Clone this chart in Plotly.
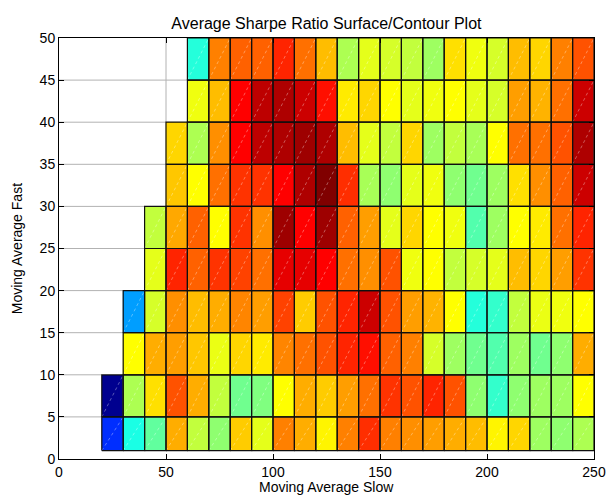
import plotly.graph_objects as go

# Grid: slow MA along x (cell edges), fast MA along y (cell edges)
slow_edges = [20, 30, 40, 50, 60, 70, 80, 90, 100, 110, 120, 130, 140, 150,
              160, 170, 180, 190, 200, 210, 220, 230, 240, 250]
fast_edges = [1, 5, 10, 15, 20, 25, 30, 35, 40, 45, 50]

x_ticks = [0, 50, 100, 150, 200, 250]
y_ticks = [0, 5, 10, 15, 20, 25, 30, 35, 40, 45, 50]

N = None
# Average Sharpe ratio per (fast, slow) cell, one list per fast-MA band
sharpe_f01 = [0.17, 0.40, 0.47, 0.705, 0.565, 0.515, 0.675, 0.60, 0.75, 0.705, 0.635, 0.75,
              0.83, 0.75, 0.735, 0.72, 0.705, 0.69, 0.635, 0.665, 0.53, 0.515, 0.545]
sharpe_f05 = [0.00, 0.545, 0.655, 0.795, 0.705, 0.565, 0.485, 0.50, 0.625, 0.705, 0.675, 0.72,
              0.765, 0.825, 0.795, 0.84, 0.795, 0.515, 0.425, 0.515, 0.53, 0.53, 0.625]
sharpe_f10 = [N, 0.625, 0.705, 0.72, 0.68, 0.605, 0.665, 0.645, 0.745, 0.765, 0.795, 0.84,
              0.86, 0.78, 0.75, 0.585, 0.53, 0.485, 0.455, 0.53, 0.485, 0.515, 0.705]
sharpe_f15 = [N, 0.28, 0.585, 0.735, 0.69, 0.705, 0.745, 0.72, 0.81, 0.675, 0.795, 0.84,
              0.925, 0.795, 0.72, 0.70, 0.625, 0.41, 0.425, 0.565, 0.605, 0.61, 0.625]
sharpe_f20 = [N, N, 0.60, 0.84, 0.78, 0.825, 0.81, 0.765, 0.90, 0.90, 0.875, 0.765,
              0.735, 0.795, 0.61, 0.625, 0.565, 0.585, 0.60, 0.69, 0.665, 0.72, 0.825]
sharpe_f25 = [N, N, 0.565, 0.71, 0.78, 0.625, 0.825, 0.735, 0.97, 0.875, 0.97, 0.78,
              0.72, 0.60, 0.665, 0.625, 0.61, 0.455, 0.53, 0.625, 0.645, 0.765, 0.84]
sharpe_f30 = [N, N, N, 0.68, 0.625, 0.765, 0.825, 0.825, 0.875, 0.955, 1.00, 0.83,
              0.54, 0.515, 0.60, 0.61, 0.515, 0.485, 0.53, 0.655, 0.735, 0.78, 0.925]
sharpe_f35 = [N, N, N, 0.665, 0.545, 0.735, 0.875, 0.94, 0.955, 0.97, 0.955, 0.69,
              0.60, 0.565, 0.665, 0.53, 0.565, 0.54, 0.625, 0.765, 0.765, 0.795, 0.955]
sharpe_f40 = [N, N, N, N, 0.61, 0.69, 0.875, 0.94, 0.955, 0.925, 0.86, 0.645,
              0.665, 0.625, 0.60, 0.61, 0.625, 0.60, 0.585, 0.72, 0.70, 0.765, 0.925]
sharpe_f45 = [N, N, N, N, 0.41, 0.75, 0.78, 0.78, 0.84, 0.765, 0.69, 0.545,
              0.60, 0.585, 0.565, 0.53, 0.655, 0.61, 0.585, 0.69, 0.665, 0.75, 0.795]

Z = [sharpe_f01, sharpe_f05, sharpe_f10, sharpe_f15, sharpe_f20,
     sharpe_f25, sharpe_f30, sharpe_f35, sharpe_f40, sharpe_f45]

jet = [[0.0, "rgb(0,0,143)"], [0.125, "rgb(0,0,255)"], [0.375, "rgb(0,255,255)"],
       [0.625, "rgb(255,255,0)"], [0.875, "rgb(255,0,0)"], [1.0, "rgb(128,0,0)"]]

fig = go.Figure()

# Light grey mesh edges over the empty (fast >= slow) region
row_start = []
for row in Z:
    idx = next(i for i, v in enumerate(row) if v is not None)
    row_start.append(slow_edges[idx])
gx, gy = [], []
for k in range(1, len(fast_edges) - 1):
    xe = min(row_start[k - 1], row_start[k])
    gx += [0, xe, None]
    gy += [fast_edges[k], fast_edges[k], None]
gx += [row_start[7], row_start[7], None]
gy += [fast_edges[8], fast_edges[10], None]
fig.add_trace(go.Scatter(x=gx, y=gy, mode="lines", hoverinfo="skip", showlegend=False,
                         line=dict(color="rgb(178,178,178)", width=1)))

# Faceted surface seen from above
fig.add_trace(go.Heatmap(x=slow_edges, y=fast_edges, z=Z, colorscale=jet,
                         zmin=0.0, zmax=1.0, showscale=False, zsmooth=False,
                         hoverongaps=False))

# Facet edges and the triangle seams inside each facet
ex, ey, dx, dy = [], [], [], []
for j, row in enumerate(Z):
    y0, y1 = fast_edges[j], fast_edges[j + 1]
    for i, v in enumerate(row):
        if v is None:
            continue
        x0, x1 = slow_edges[i], slow_edges[i + 1]
        ex += [x0, x1, x1, x0, x0, None]
        ey += [y0, y0, y1, y1, y0, None]
        dx += [x0, x1, None]
        dy += [y0, y1, None]
fig.add_trace(go.Scatter(x=dx, y=dy, mode="lines", hoverinfo="skip", showlegend=False,
                         line=dict(color="rgba(255,255,255,0.35)", width=1, dash="dot")))
fig.add_trace(go.Scatter(x=ex, y=ey, mode="lines", hoverinfo="skip", showlegend=False,
                         line=dict(color="rgb(15,15,15)", width=1.2)))

font = "Liberation Sans, Arial, sans-serif"
axis_common = dict(showgrid=False, zeroline=False, showline=True, linecolor="black",
                   linewidth=1, mirror="ticks", ticks="inside", ticklen=5,
                   tickcolor="black", automargin=False,
                   tickfont=dict(size=14, color="black", family=font))

fig.update_layout(
    width=609, height=502,
    margin=dict(l=59, r=15, t=38, b=43),
    paper_bgcolor="white", plot_bgcolor="white",
    font=dict(family=font, size=14, color="black"),
    title=dict(text="Average Sharpe Ratio Surface/Contour Plot", x=0.536, xanchor="center",
               y=0.954, yanchor="middle", font=dict(size=16, color="black", family=font)),
    xaxis=dict(range=[0, 250], tickvals=x_ticks, **axis_common),
    yaxis=dict(range=[0, 50], tickvals=y_ticks, **axis_common),
    annotations=[
        dict(text="Moving Average Slow", xref="paper", yref="paper", x=0.5, y=-0.067,
             xanchor="center", yanchor="middle", showarrow=False,
             font=dict(size=14, color="black", family=font)),
        dict(text="Moving Average Fast", xref="paper", yref="paper", x=-0.079, y=0.5,
             xanchor="center", yanchor="middle", textangle=-90, showarrow=False,
             font=dict(size=14, color="black", family=font)),
    ],
)

fig.write_html("out.html")
